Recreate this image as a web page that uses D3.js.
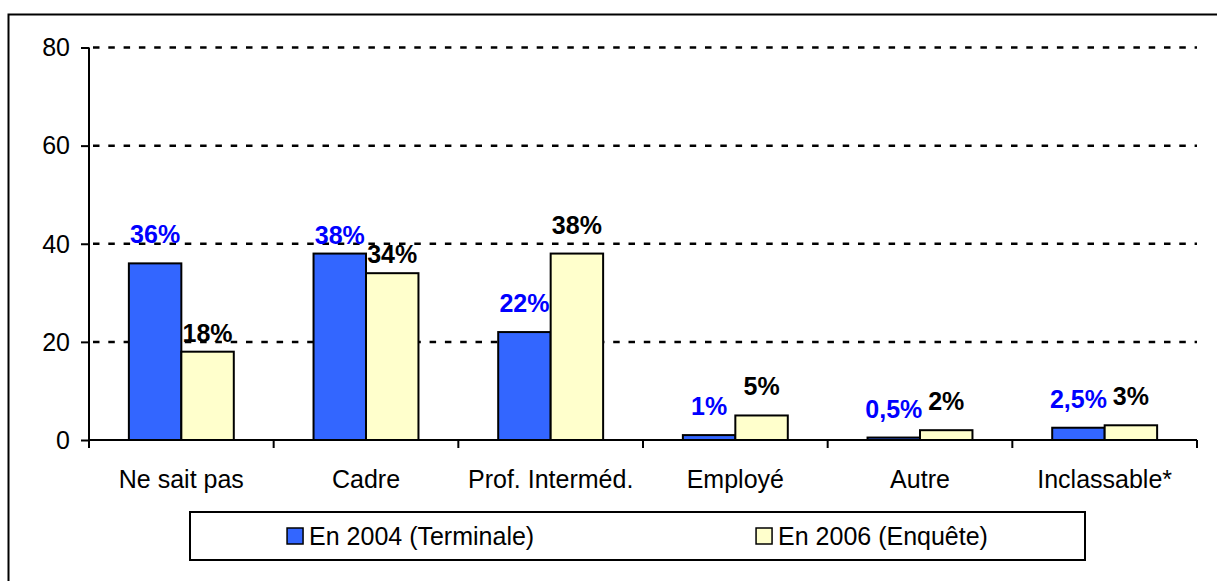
<!DOCTYPE html>
<meta charset="utf-8">
<body>
<script src="https://cdn.jsdelivr.net/npm/d3@7/dist/d3.min.js"></script>
<style>
    html, body {
        margin: 0;
        background: #fff;
    }
    svg text {
        font-family: "Liberation Sans", Arial, sans-serif;
    }
</style>
<script>
var categories = ["Ne sait pas", "Cadre", "Prof. Interméd.", "Employé", "Autre", "Inclassable*"],
    series = ["En 2004 (Terminale)", "En 2006 (Enquête)"],
    values2004 = [36, 38, 22, 1, 0.5, 2.5],
    values2006 = [18, 34, 38, 5, 2, 3],
    labels2004 = ["36%", "38%", "22%", "1%", "0,5%", "2,5%"],
    labels2006 = ["18%", "34%", "38%", "5%", "2%", "3%"],
    yTicks = [0, 20, 40, 60, 80];

// Excel pushed a few labels down to avoid overlaps
var labelDrop = {"1-0": 10, "0-1": 10, "1-1": 10};

var width = 1217,
    height = 581,
    fontSize = 25,
    colors = ["#3366ff", "#ffffcc"],
    labelColors = ["#0000ff", "#000"];

var svg = d3.select("body").append("svg")
    .attr("width", width)
    .attr("height", height);

// outer frame
svg.append("rect")
    .attr("x", 8.5).attr("y", 14.5)
    .attr("width", 1240).attr("height", 620)
    .attr("fill", "none")
    .attr("stroke", "#000")
    .attr("stroke-width", 2);

var plot = {left: 89, right: 1197, top: 47.5, bottom: 440};

var x0 = d3.scaleBand()
    .domain(categories)
    .range([plot.left, plot.right]);

var x1 = d3.scaleBand()
    .domain(series)
    .range([0, x0.bandwidth()])
    .paddingOuter(0.76);

var y = d3.scaleLinear()
    .domain([0, 80])
    .range([plot.bottom, plot.top]);

// gridlines
svg.append("g").selectAll("line")
    .data(yTicks.filter(function(d) { return d > 0; }))
    .enter().append("line")
    .attr("x1", plot.left + 4)
    .attr("x2", plot.right)
    .attr("y1", function(d) { return y(d); })
    .attr("y2", function(d) { return y(d); })
    .attr("stroke", "#000")
    .attr("stroke-width", 2.5)
    .attr("stroke-dasharray", "6.5,8.8");

// y axis
var yAxis = svg.append("g")
    .attr("transform", "translate(" + plot.left + ",0)")
    .call(d3.axisLeft(y).tickValues(yTicks).tickSize(8).tickPadding(11));
yAxis.select(".domain").attr("stroke-width", 2).attr("d", "M0," + (plot.bottom + 8) + "V" + plot.top);
yAxis.selectAll(".tick line").attr("stroke-width", 2);
yAxis.selectAll(".tick text")
    .attr("font-size", fontSize)
    .attr("fill", "#000")
    .attr("dy", "0.33em");

// bars
var rows = categories.map(function(c, i) {
    return [
        {cat: c, s: 0, v: values2004[i], label: labels2004[i], i: i},
        {cat: c, s: 1, v: values2006[i], label: labels2006[i], i: i}
    ];
});

var groups = svg.append("g").selectAll("g")
    .data(rows)
    .enter().append("g")
    .attr("transform", function(d) { return "translate(" + x0(d[0].cat) + ",0)"; });

groups.selectAll("rect")
    .data(function(d) { return d; })
    .enter().append("rect")
    .attr("x", function(d) { return x1(series[d.s]); })
    .attr("width", x1.bandwidth())
    .attr("y", function(d) { return y(d.v); })
    .attr("height", function(d) { return y(0) - y(d.v); })
    .attr("fill", function(d) { return colors[d.s]; })
    .attr("stroke", "#000")
    .attr("stroke-width", 2);

groups.selectAll("text")
    .data(function(d) { return d; })
    .enter().append("text")
    .attr("x", function(d) { return x1(series[d.s]) + x1.bandwidth() / 2; })
    .attr("y", function(d) { return y(d.v) - 20 + (labelDrop[d.i + "-" + d.s] || 0); })
    .attr("text-anchor", "middle")
    .attr("font-size", fontSize)
    .attr("font-weight", "bold")
    .attr("fill", function(d) { return labelColors[d.s]; })
    .text(function(d) { return d.label; });

// x axis
svg.append("line")
    .attr("x1", plot.left).attr("x2", plot.right)
    .attr("y1", y(0)).attr("y2", y(0))
    .attr("stroke", "#000").attr("stroke-width", 2);

svg.append("g").selectAll("line")
    .data(d3.range(categories.length + 1))
    .enter().append("line")
    .attr("x1", function(d) { return plot.left + d * x0.step(); })
    .attr("x2", function(d) { return plot.left + d * x0.step(); })
    .attr("y1", y(0))
    .attr("y2", y(0) + 8)
    .attr("stroke", "#000")
    .attr("stroke-width", 2);

svg.append("g").selectAll("text")
    .data(categories)
    .enter().append("text")
    .attr("x", function(d) { return x0(d) + x0.bandwidth() / 2; })
    .attr("y", 488)
    .attr("text-anchor", "middle")
    .attr("font-size", fontSize)
    .text(function(d) { return d; });

// legend
var legend = {x: 190, y: 512, w: 895, h: 48, step: 469};
svg.append("rect")
    .attr("x", legend.x).attr("y", legend.y)
    .attr("width", legend.w).attr("height", legend.h)
    .attr("fill", "#fff")
    .attr("stroke", "#000")
    .attr("stroke-width", 2);

var items = svg.append("g").selectAll("g")
    .data(series)
    .enter().append("g");

items.append("rect")
    .attr("y", legend.y + legend.h / 2 - 8)
    .attr("width", 16).attr("height", 16)
    .attr("fill", function(d, i) { return colors[i]; })
    .attr("stroke", "#000")
    .attr("stroke-width", 1.5);

items.append("text")
    .attr("x", 22)
    .attr("y", legend.y + legend.h / 2 + 9)
    .attr("font-size", fontSize)
    .text(function(d) { return d; });

var lastW = items.nodes()[series.length - 1].getBBox().width,
    total = legend.step * (series.length - 1) + lastW,
    start = legend.x + (legend.w - total) / 2;
items.attr("transform", function(d, i) {
    return "translate(" + (start + i * legend.step) + ",0)";
});
</script>
